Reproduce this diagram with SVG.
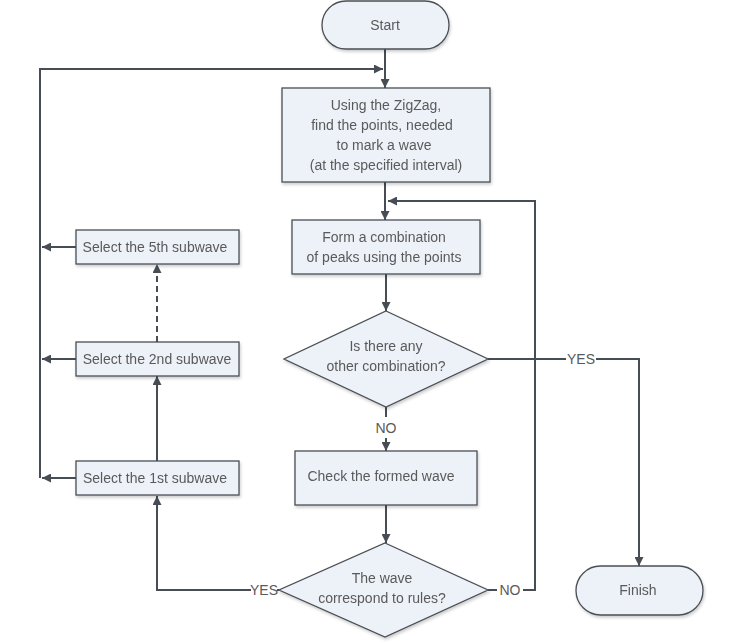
<svg xmlns="http://www.w3.org/2000/svg" width="750" height="644" viewBox="0 0 750 644">
<defs>
<style>
.n{fill:#edf1f8;stroke:#4a4f55;stroke-width:1.3}
.t{font-family:"Liberation Sans",Arial,sans-serif;font-size:14px;fill:#5a5a5a;text-anchor:middle}
.c{fill:none;stroke:#474d54;stroke-width:2}
.d{stroke-dasharray:6,4}
</style>
<filter id="sh" x="-10%" y="-10%" width="125%" height="130%">
<feDropShadow dx="1" dy="2" stdDeviation="1.5" flood-color="#000" flood-opacity="0.2"/>
</filter>
<marker id="a" viewBox="0 0 10 10" refX="10" refY="5" markerWidth="4.5" markerHeight="4.5" orient="auto" markerUnits="strokeWidth">
<path d="M0,0 L10,5 L0,10 Z" fill="#474d54"/>
</marker>
</defs>
<g id="connectors">
<path class="c" d="M385,49 V88" marker-end="url(#a)"/>
<path class="c" d="M40,478 V69 H383" marker-end="url(#a)"/>
<path class="c" d="M385,182 V220" marker-end="url(#a)"/>
<path class="c" d="M386,274 V311" marker-end="url(#a)"/>
<path class="c" d="M386,407 V417"/>
<path class="c" d="M386,438 V451" marker-end="url(#a)"/>
<path class="c" d="M386,505 V543" marker-end="url(#a)"/>
<path class="c" d="M488,590 H497"/>
<path class="c" d="M523,590 H535 V201 H388" marker-end="url(#a)"/>
<path class="c" d="M488,359 H566"/>
<path class="c" d="M596,359 H639 V566" marker-end="url(#a)"/>
<path class="c" d="M279,590 H277"/>
<path class="c" d="M251,590 H157 V496" marker-end="url(#a)"/>
<path class="c" d="M157,461 V376" marker-end="url(#a)"/>
<path class="c d" d="M157,342 V264" marker-end="url(#a)"/>
<path class="c" d="M76,247 H42" marker-end="url(#a)"/>
<path class="c" d="M76,359 H42" marker-end="url(#a)"/>
<path class="c" d="M76,478 H42" marker-end="url(#a)"/>
<text class="t" x="581" y="364">YES</text>
<text class="t" x="386" y="433">NO</text>
<text class="t" x="510" y="595">NO</text>
<text class="t" x="264" y="595">YES</text>
</g>
<g id="start" filter="url(#sh)">
<rect class="n" x="322" y="1" width="127" height="48" rx="24"/>
<text class="t" x="385" y="30">Start</text>
</g>
<g id="find-points" filter="url(#sh)">
<rect class="n" x="282" y="88" width="208" height="94"/>
<text class="t" x="386" y="110">Using the ZigZag,</text>
<text class="t" x="382" y="130">find the points, needed</text>
<text class="t" x="384" y="150">to mark a wave</text>
<text class="t" x="386" y="170">(at the specified interval)</text>
</g>
<g id="form-combination" filter="url(#sh)">
<rect class="n" x="292" y="220" width="188" height="54"/>
<text class="t" x="384" y="242">Form a combination</text>
<text class="t" x="384" y="262">of peaks using the points</text>
</g>
<g id="other-combination" filter="url(#sh)">
<polygon class="n" points="386,311 488,359 386,407 284,359"/>
<text class="t" x="386" y="351">Is there any</text>
<text class="t" x="386" y="371">other combination?</text>
</g>
<g id="check-wave" filter="url(#sh)">
<rect class="n" x="295" y="451" width="182" height="54"/>
<text class="t" x="381" y="481">Check the formed wave</text>
</g>
<g id="correspond-rules" filter="url(#sh)">
<polygon class="n" points="385,543 488,590 385,637 279,590"/>
<text class="t" x="382" y="583">The wave</text>
<text class="t" x="382" y="603">correspond to rules?</text>
</g>
<g id="finish" filter="url(#sh)">
<rect class="n" x="576" y="566" width="127" height="49" rx="24.5"/>
<text class="t" x="638" y="595">Finish</text>
</g>
<g id="select-5th" filter="url(#sh)">
<rect class="n" x="76" y="230" width="163" height="34"/>
<text class="t" x="155" y="252">Select the 5th subwave</text>
</g>
<g id="select-2nd" filter="url(#sh)">
<rect class="n" x="76" y="342" width="163" height="34"/>
<text class="t" x="157" y="364">Select the 2nd subwave</text>
</g>
<g id="select-1st" filter="url(#sh)">
<rect class="n" x="76" y="461" width="163" height="34"/>
<text class="t" x="155" y="483">Select the 1st subwave</text>
</g>
</svg>
